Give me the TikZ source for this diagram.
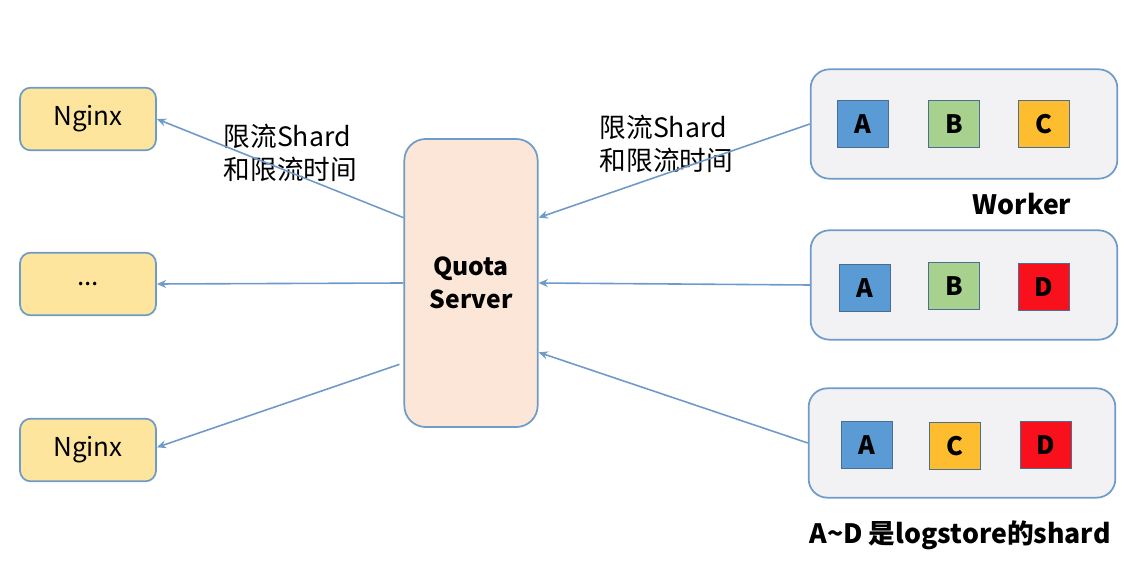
\documentclass[tikz,border=0pt]{standalone}
\usepackage{fontspec}
\setmainfont{Noto Sans CJK SC}
\usetikzlibrary{arrows.meta}

\definecolor{edgeblue}{HTML}{6F9BC8}
\definecolor{nginxfill}{HTML}{FDE59D}
\definecolor{quotafill}{HTML}{FBE6D8}
\definecolor{workerfill}{HTML}{F2F2F4}
\definecolor{shardA}{HTML}{5B9BD5}
\definecolor{shardB}{HTML}{A9D18E}
\definecolor{shardC}{HTML}{FDBD2F}
\definecolor{shardD}{HTML}{F8101C}
\definecolor{sharddraw}{HTML}{4A6E92}

\tikzset{
  nginxbox/.style={draw=edgeblue, fill=nginxfill, line width=1.3pt, rounded corners=8pt,
    minimum width=102pt, minimum height=47pt, font=\fontsize{19.5}{22}\selectfont},
  quotabox/.style={draw=edgeblue, fill=quotafill, line width=1.3pt, rounded corners=16pt,
    minimum width=100pt, minimum height=216pt, align=center, font=\bfseries\fontsize{18.5}{25}\selectfont},
  workerbox/.style={draw=edgeblue, fill=workerfill, line width=1.3pt, rounded corners=14pt,
    minimum width=230pt, minimum height=82pt},
  shard/.style={draw=sharddraw, fill=#1, line width=1pt, minimum width=38pt, minimum height=35pt,
    font=\bfseries\fontsize{19}{22}\selectfont},
  flow/.style={draw=edgeblue, line width=1.2pt, -{Stealth[length=7pt,width=6pt]}},
  note/.style={align=left, anchor=north west, font=\fontsize{20}{25}\selectfont},
  caption/.style={font=\bfseries\fontsize{20}{24}\selectfont}
}

\begin{document}
\begin{tikzpicture}[x=0.75pt,y=-0.75pt]
\useasboundingbox (0,0) rectangle (1146,580);

% nginx side
\node[nginxbox] (nginx1) at (88,119) {Nginx};
\node[nginxbox] (nginx2) at (88,284) {...};
\node[nginxbox] (nginx3) at (88,450) {Nginx};

% quota server
\node[quotabox] (quota) at (471,283) {Quota\\Server};

% workers and their shards
\node[workerbox] (worker1) at (964,124) {};
\node[workerbox] (worker2) at (964,285) {};
\node[workerbox] (worker3) at (962,443) {};

\node[shard=shardA] (w1a) at (863,124) {A};
\node[shard=shardB] (w1b) at (954,124) {B};
\node[shard=shardC] (w1c) at (1044,124) {C};

\node[shard=shardA] (w2a) at (865,288) {A};
\node[shard=shardB] (w2b) at (954,286) {B};
\node[shard=shardD] (w2d) at (1044,287) {D};

\node[shard=shardA] (w3a) at (867,445) {A};
\node[shard=shardC] (w3c) at (955,446) {C};
\node[shard=shardD] (w3d) at (1046,445) {D};

\node[caption] (workerlabel) at (1022,204) {Worker};
\node[caption] (shardlabel) at (960,535) {A\textasciitilde D 是logstore的shard};

% labels
\node[note] (leftnote) at (219,119) {限流Shard\\和限流时间};
\node[note] (rightnote) at (595,110) {限流Shard\\和限流时间};

% connectors
\draw[flow] ([yshift=49pt]quota.west) -- (nginx1.east);
\draw[flow] (quota.west) -- (nginx2.east);
\draw[flow] ([xshift=-3pt,yshift=-61pt]quota.west) -- ([yshift=2pt]nginx3.east);

\draw[flow] (worker1.west) -- ([yshift=49pt]quota.east);
\draw[flow] (worker2.west) -- (quota.east);
\draw[flow] (worker3.west) -- ([yshift=-52pt]quota.east);
\end{tikzpicture}
\end{document}
